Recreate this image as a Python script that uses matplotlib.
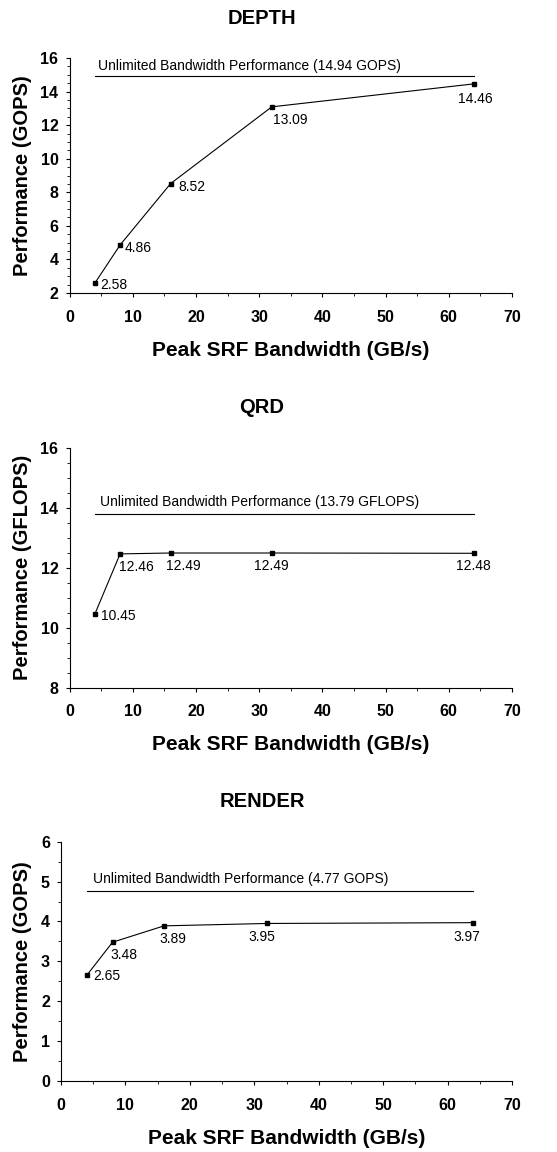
import matplotlib
matplotlib.use("Agg")
import matplotlib.pyplot as plt
from matplotlib.ticker import MultipleLocator

plt.rcParams["font.family"] = ["Liberation Sans", "DejaVu Sans"]

bandwidth = [4, 8, 16, 32, 64]

depth_perf = [2.58, 4.86, 8.52, 13.09, 14.46]
depth_unlimited = 14.94
qrd_perf = [10.45, 12.46, 12.49, 12.49, 12.48]
qrd_unlimited = 13.79
render_perf = [2.65, 3.48, 3.89, 3.95, 3.97]
render_unlimited = 4.77

# label placement per point: (dx px, dy px, ha)
panels = [
    ("DEPTH", "Performance (GOPS)", depth_perf, depth_unlimited, "GOPS", (2, 16), 2,
     [(5, -2, "left"), (5, -3, "left"), (8, -3, "left"), (1, -13, "left"), (1, -15, "center")],
     (3, 10)),
    ("QRD", "Performance (GFLOPS)", qrd_perf, qrd_unlimited, "GFLOPS", (8, 16), 2,
     [(6, -2, "left"), (-1, -13, "left"), (-5, -13, "left"), (0, -13, "center"), (-1, -13, "center")],
     (5, 12)),
    ("RENDER", "Performance (GOPS)", render_perf, render_unlimited, "GOPS", (0, 6), 1,
     [(6, -1, "left"), (-2, -13, "left"), (-5, -13, "left"), (-5, -14, "center"), (-6, -14, "center")],
     (6, 12)),
]

W, H = 557, 1152
boxes = [(69.5, 512, 58, 293), (69.5, 512, 447.7, 687.7), (61, 512, 841.7, 1081)]

fig = plt.figure(figsize=(W / 100, H / 100), dpi=100)

for (title, ylab, vals, unl, unit, ylim, major, offs, uoff), (x0, x1, yt, yb) in zip(panels, boxes):
    ax = fig.add_axes([x0 / W, 1 - yb / H, (x1 - x0) / W, (yb - yt) / H])
    ax.plot(bandwidth, vals, "-", color="black", lw=0.8, marker="s", ms=3.5)
    ax.plot([bandwidth[0], bandwidth[-1]], [unl, unl], color="black", lw=0.8)
    ax.annotate(f"Unlimited Bandwidth Performance ({unl:.2f} {unit})",
                (bandwidth[0], unl), xytext=uoff, textcoords="offset pixels",
                fontsize=10, va="center", ha="left")
    for x, y, (dx, dy, ha) in zip(bandwidth, vals, offs):
        ax.annotate(f"{y:.2f}", (x, y), xytext=(dx, dy), textcoords="offset pixels",
                    fontsize=10, ha=ha, va="center")
    ax.set_xlim(0, 70)
    ax.set_ylim(*ylim)
    ax.xaxis.set_major_locator(MultipleLocator(10))
    ax.xaxis.set_minor_locator(MultipleLocator(5))
    ax.yaxis.set_major_locator(MultipleLocator(major))
    ax.yaxis.set_minor_locator(MultipleLocator(0.5))
    for s in ("top", "right"):
        ax.spines[s].set_visible(False)
    ax.tick_params(which="major", length=3, width=0.8, labelsize=11.5)
    ax.tick_params(which="minor", length=2.5, width=0.6)
    ax.tick_params(axis="x", which="major", pad=9)
    ax.tick_params(axis="y", which="major", pad=5)
    for lbl in ax.get_xticklabels() + ax.get_yticklabels():
        lbl.set_fontweight("bold")
    ax.set_xlabel("Peak SRF Bandwidth (GB/s)", fontsize=15, fontweight="bold")
    ax.set_ylabel(ylab, fontsize=14.5, fontweight="bold")
    ax.xaxis.label.set_va("center")
    ax.yaxis.label.set_va("center")
    ax.xaxis.set_label_coords(0.5, -57 / (yb - yt))
    ax.yaxis.set_label_coords((23 - x0) / (x1 - x0), 0.5)
    fig.text(262 / W, 1 - (yt - 40) / H, title, ha="center", va="center",
             fontsize=14.5, fontweight="bold")

fig.savefig("out.png", dpi=100)
